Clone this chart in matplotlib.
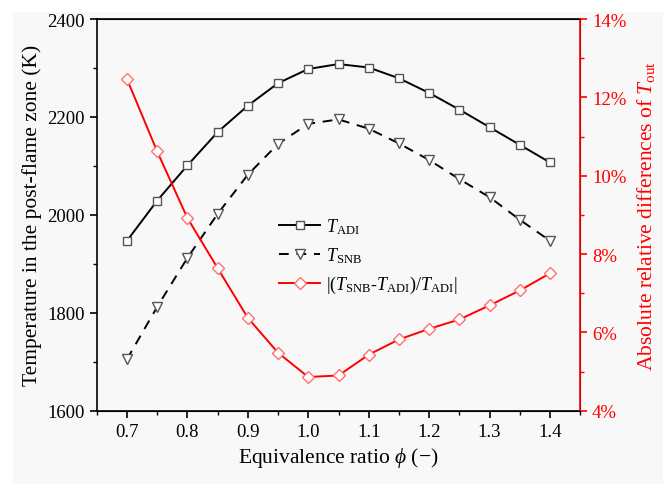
import matplotlib
matplotlib.use("Agg")
import matplotlib.pyplot as plt
from matplotlib.patches import Rectangle
from matplotlib.ticker import MultipleLocator, FuncFormatter

plt.rcParams['font.family'] = ['Liberation Serif', 'DejaVu Serif']
plt.rcParams['mathtext.fontset'] = 'custom'
plt.rcParams['mathtext.rm'] = 'Liberation Serif'
plt.rcParams['mathtext.it'] = 'Liberation Serif:italic'

# data
phi = [0.70, 0.75, 0.80, 0.85, 0.90, 0.95, 1.00, 1.05, 1.10, 1.15, 1.20, 1.25, 1.30, 1.35, 1.40]
t_adi = [1947, 2029, 2101, 2169, 2223, 2269, 2298, 2308, 2301, 2279, 2249, 2215, 2179, 2143, 2107]
t_snb = [1705, 1812, 1912, 2002, 2082, 2145, 2186, 2195, 2176, 2146, 2112, 2073, 2036, 1990, 1947]
rel_diff = [12.47, 10.62, 8.92, 7.64, 6.37, 5.48, 4.86, 4.90, 5.43, 5.82, 6.09, 6.33, 6.69, 7.07, 7.51]

bg = '#f8f8f8'
fig = plt.figure(figsize=(6.67, 4.85), dpi=100, facecolor='white')
# grey panel behind the plot, with a thin white margin top/left/right
fig.patches.append(Rectangle((13 / 667, 0), 650 / 667, 472 / 485,
                             transform=fig.transFigure, facecolor=bg,
                             edgecolor='none', zorder=-10))
ax = fig.add_axes([0.145, 0.1511, 0.725, 0.8076], facecolor=bg)
ax2 = ax.twinx()

l1, = ax.plot(phi, t_adi, '-', color='black', lw=1.4, marker='s', ms=6,
              mfc='white', mec='#555555', mew=1.0, label=r'$T_{\mathrm{ADI}}$')
l2, = ax.plot(phi, t_snb, '--', color='black', lw=1.4, dashes=(5, 4), marker='v', ms=7,
              mfc='white', mec='#555555', mew=1.0, label=r'$T_{\mathrm{SNB}}$')
l3, = ax2.plot(phi, rel_diff, '-', color='red', lw=1.4, marker='D', ms=6.5,
               mfc='white', mec='#ff7070', mew=1.0,
               label=r'$|(T_{\mathrm{SNB}}$-$T_{\mathrm{ADI}})/T_{\mathrm{ADI}}|$')

ax.set_xlim(0.65, 1.45)
ax.set_ylim(1600, 2400)
ax2.set_ylim(4, 14)

ax.xaxis.set_major_locator(MultipleLocator(0.1))
ax.xaxis.set_minor_locator(MultipleLocator(0.05))
ax.xaxis.set_major_formatter(FuncFormatter(lambda v, p: f'{v:.1f}'))
ax.yaxis.set_major_locator(MultipleLocator(200))
ax.yaxis.set_minor_locator(MultipleLocator(100))
ax2.yaxis.set_major_locator(MultipleLocator(2))
ax2.yaxis.set_minor_locator(MultipleLocator(1))
ax2.yaxis.set_major_formatter(FuncFormatter(lambda v, p: f'{v:.0f}%'))

ax.tick_params(axis='both', which='major', direction='out', length=5, width=1.2, labelsize=13.5)
ax.tick_params(axis='both', which='minor', direction='out', length=3, width=1.0)
ax.tick_params(axis='x', which='both', top=False)
ax2.tick_params(axis='y', which='major', direction='out', length=5, width=1.2,
                labelsize=13.5, colors='red')
ax2.tick_params(axis='y', which='minor', direction='out', length=3, width=1.0, colors='red')

for s in ['left', 'top', 'bottom']:
    ax.spines[s].set_linewidth(1.2)
ax2.spines['right'].set_color('red')
ax2.spines['right'].set_linewidth(1.2)
ax2.spines['left'].set_visible(False)

ax.set_xlabel(r'Equivalence ratio $\phi$ (−)', fontsize=15.5)
ax.set_ylabel('Temperature in the post-flame zone (K)', fontsize=15.5)
ax2.set_ylabel(r'Absolute relative differences of $T_{\mathrm{out}}$', fontsize=15.5,
               color='red', labelpad=6)

ax.legend(handles=[l1, l2, l3], loc='center left', bbox_to_anchor=(0.358, 0.395),
          frameon=False, fontsize=13, handlelength=2.3, borderpad=0, labelspacing=0.5,
          handletextpad=0.3)

fig.savefig('out.png', dpi=100)
